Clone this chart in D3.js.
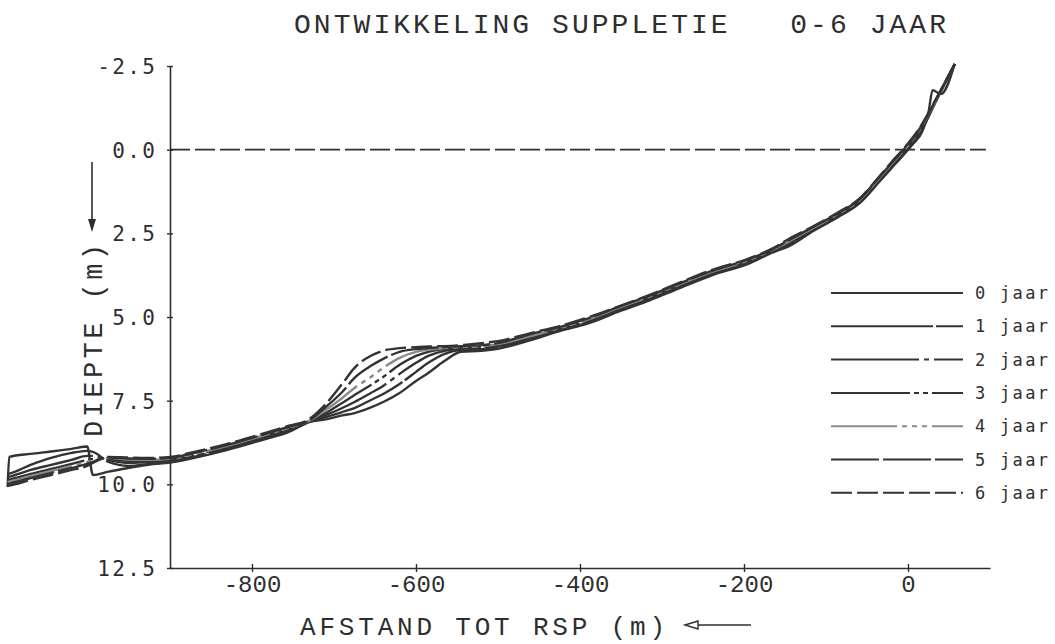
<!DOCTYPE html>
<html>
<head>
<meta charset="utf-8">
<script src="https://cdn.jsdelivr.net/npm/d3@7"></script>
<style>
  html, body { margin: 0; padding: 0; background: #fff; }
  svg { display: block; }
</style>
</head>
<body>
<svg id="chart" width="1055" height="644"></svg>
<script>
// Afstand tot RSP (m) — gemeenschappelijk rekenrooster voor alle profielen
const distance = [-1098, -1096, -1070, -1045, -1020, -1001, -994, -975, -950, -925,
  -900, -865, -830, -790, -755, -730, -710, -690, -675, -655,
  -640, -620, -600, -585, -565, -545, -520, -500, -460, -425,
  -390, -350, -315, -280, -240, -195, -165, -145, -115, -85,
  -60, -35, -20, -5, 5, 18, 25, 30, 40, 57];

// Diepte (m) per profiel, 0 t/m 6 jaar na aanleg
const jaar0 = [10.08, 9.18, 9.09, 9.02, 8.94, 8.87, 9.72, 9.62, 9.51, 9.41,
  9.35, 9.18, 8.97, 8.69, 8.43, 8.14, 8.06, 7.94, 7.87, 7.70,
  7.54, 7.27, 6.91, 6.67, 6.31, 6.04, 6.01, 5.95, 5.69, 5.42,
  5.19, 4.81, 4.50, 4.15, 3.76, 3.41, 3.07, 2.88, 2.42, 2.01,
  1.62, 0.96, 0.55, 0.14, -0.14, -0.58, -1.12, -1.78, -1.66, -2.56];
const jaar1 = [9.69, 9.68, 9.42, 9.21, 9.06, 9.00, 9.03, 9.33, 9.45, 9.39,
  9.33, 9.15, 8.94, 8.66, 8.40, 8.13, 7.99, 7.84, 7.72, 7.48,
  7.30, 7.00, 6.64, 6.37, 6.10, 5.98, 5.96, 5.90, 5.66, 5.40,
  5.16, 4.78, 4.47, 4.12, 3.73, 3.39, 3.05, 2.85, 2.40, 1.99,
  1.60, 0.93, 0.52, 0.11, -0.18, -0.63, -0.98, -1.24, -1.73, -2.56];
const jaar2 = [9.78, 9.77, 9.57, 9.42, 9.27, 9.15, 9.15, 9.27, 9.36, 9.33,
  9.30, 9.12, 8.91, 8.63, 8.37, 8.12, 7.93, 7.72, 7.54, 7.27,
  7.06, 6.70, 6.37, 6.16, 6.01, 5.96, 5.93, 5.87, 5.63, 5.39,
  5.13, 4.76, 4.44, 4.09, 3.71, 3.36, 3.03, 2.80, 2.37, 1.96,
  1.57, 0.90, 0.49, 0.08, -0.22, -0.67, -1.00, -1.26, -1.74, -2.56];
const jaar3 = [9.87, 9.86, 9.69, 9.54, 9.39, 9.27, 9.24, 9.24, 9.30, 9.30,
  9.27, 9.09, 8.88, 8.60, 8.34, 8.11, 7.87, 7.57, 7.33, 7.03,
  6.79, 6.43, 6.16, 6.04, 5.96, 5.93, 5.90, 5.84, 5.60, 5.36,
  5.10, 4.73, 4.42, 4.07, 3.68, 3.34, 3.01, 2.77, 2.35, 1.94,
  1.55, 0.88, 0.46, 0.05, -0.25, -0.71, -1.04, -1.28, -1.75, -2.56];
const jaar4 = [9.93, 9.92, 9.75, 9.60, 9.45, 9.33, 9.30, 9.21, 9.26, 9.27,
  9.24, 9.06, 8.85, 8.57, 8.31, 8.10, 7.78, 7.42, 7.12, 6.79,
  6.52, 6.22, 6.04, 5.98, 5.93, 5.90, 5.87, 5.81, 5.57, 5.33,
  5.07, 4.70, 4.39, 4.04, 3.66, 3.31, 2.99, 2.74, 2.33, 1.92,
  1.53, 0.85, 0.43, 0.02, -0.28, -0.74, -1.06, -1.29, -1.76, -2.56];
const jaar5 = [9.99, 9.98, 9.81, 9.66, 9.51, 9.39, 9.33, 9.20, 9.23, 9.24,
  9.21, 9.03, 8.82, 8.54, 8.28, 8.09, 7.69, 7.24, 6.82, 6.46,
  6.25, 6.04, 5.96, 5.93, 5.90, 5.87, 5.84, 5.78, 5.51, 5.30,
  5.04, 4.67, 4.36, 4.01, 3.63, 3.28, 2.97, 2.70, 2.30, 1.89,
  1.50, 0.82, 0.40, -0.01, -0.31, -0.77, -1.08, -1.31, -1.77, -2.56];
const jaar6 = [10.05, 10.04, 9.87, 9.72, 9.57, 9.45, 9.36, 9.18, 9.20, 9.21,
  9.18, 9.00, 8.79, 8.51, 8.25, 8.05, 7.60, 7.00, 6.52, 6.16,
  6.01, 5.93, 5.90, 5.88, 5.87, 5.84, 5.78, 5.72, 5.48, 5.27,
  5.01, 4.66, 4.34, 3.99, 3.60, 3.26, 2.95, 2.66, 2.28, 1.87,
  1.48, 0.80, 0.37, -0.04, -0.34, -0.80, -1.10, -1.33, -1.78, -2.56];

const profiles = [jaar0, jaar1, jaar2, jaar3, jaar4, jaar5, jaar6];
const legendLabels = ["0 jaar", "1 jaar", "2 jaar", "3 jaar", "4 jaar", "5 jaar", "6 jaar"];
const dashPatterns = [null, "102,3", "88,5,5,5", "79,4,5,4,5,4", "66,5,5,5,5,5,5,5", "48,4", "21,5"];
const lineColors = ["#333", "#333", "#333", "#333", "#8a8a8a", "#333", "#333"];

const depthTicks = [-2.5, 0, 2.5, 5, 7.5, 10, 12.5];
const distanceTicks = [-800, -600, -400, -200, 0];

const svg = d3.select("#chart");
svg.append("rect").attr("width", 1055).attr("height", 644).attr("fill", "#fff");

const x = d3.scaleLinear().domain([-900, 100]).range([170, 990]);
const y = d3.scaleLinear().domain([-2.5, 12.5]).range([66, 568]);

const plotterFont = "'Liberation Mono', 'DejaVu Sans Mono', monospace";
const roundFont = "'DejaVu Sans Mono', monospace";
const ink = "#2e2e2e";

// Titel
svg.append("text")
  .attr("x", 294).attr("y", 33)
  .attr("textLength", 652).attr("lengthAdjust", "spacing")
  .style("white-space", "pre")
  .style("font-family", plotterFont).style("font-size", "28px")
  .attr("fill", ink)
  .text("ONTWIKKELING SUPPLETIE   0-6 JAAR");

// Waterlijn (0.0 m)
svg.append("line")
  .attr("x1", x(-900)).attr("x2", x(95))
  .attr("y1", y(0)).attr("y2", y(0))
  .attr("stroke", ink).attr("stroke-width", 1.6)
  .attr("stroke-dasharray", "20,5");

// Profielen
const line = d3.line()
  .x((d, i) => x(distance[i]))
  .y(d => y(d))
  .curve(d3.curveMonotoneX);

svg.append("g").selectAll("path")
  .data(profiles)
  .join("path")
  .attr("d", d => line(d))
  .attr("fill", "none")
  .attr("stroke", (d, i) => lineColors[i])
  .attr("stroke-width", 2.4)
  .attr("stroke-linejoin", "round")
  .attr("stroke-dasharray", (d, i) => dashPatterns[i]);

// Assen
const yAxis = d3.axisLeft(y).tickValues(depthTicks).tickSize(3).tickSizeOuter(0)
  .tickFormat(d => d.toFixed(1));
const gy = svg.append("g").attr("transform", "translate(170,0)").call(yAxis);
gy.select(".domain").attr("stroke", ink).attr("stroke-width", 1.6);
gy.selectAll(".tick line").attr("x1", -3).attr("x2", 3).attr("stroke", ink).attr("stroke-width", 1.4);
gy.selectAll(".tick text")
  .attr("x", -12.6).attr("dy", "0.36em")
  .attr("letter-spacing", 2.4)
  .style("font-family", roundFont).style("font-size", "21px")
  .attr("fill", ink);

const xAxis = d3.axisBottom(x).tickValues(distanceTicks).tickSize(4).tickSizeOuter(0)
  .tickFormat(d => String(d));
const gx = svg.append("g").attr("transform", "translate(0,568)").call(xAxis);
gx.select(".domain").attr("stroke", ink).attr("stroke-width", 1.6);
gx.selectAll(".tick line").attr("y1", -4).attr("y2", 4).attr("stroke", ink).attr("stroke-width", 1.4);
gx.selectAll(".tick text")
  .attr("y", 7).attr("dy", "0.71em")
  .style("font-family", plotterFont).style("font-size", "24px")
  .attr("fill", ink);

// Aslabels
svg.append("text")
  .attr("transform", "translate(102,437) rotate(-90)")
  .attr("textLength", 193).attr("lengthAdjust", "spacing")
  .style("font-family", plotterFont).style("font-size", "27px")
  .attr("fill", ink)
  .text("DIEPTE (m)");

svg.append("line")
  .attr("x1", 92).attr("x2", 92).attr("y1", 162).attr("y2", 222)
  .attr("stroke", ink).attr("stroke-width", 1.6);
svg.append("path")
  .attr("d", "M88,219L96,219L92,232Z")
  .attr("fill", ink);

svg.append("text")
  .attr("x", 300).attr("y", 635)
  .attr("textLength", 365).attr("lengthAdjust", "spacing")
  .style("font-family", plotterFont).style("font-size", "26px")
  .attr("fill", ink)
  .text("AFSTAND TOT RSP (m)");

svg.append("line")
  .attr("x1", 697).attr("x2", 751).attr("y1", 625).attr("y2", 625)
  .attr("stroke", ink).attr("stroke-width", 1.6);
svg.append("path")
  .attr("d", "M685,625L698,621L698,629Z")
  .attr("fill", "#fff").attr("stroke", ink).attr("stroke-width", 1.4);

// Legenda
const legend = svg.append("g");
const rowY = i => 293 + i * 33.3;
legend.selectAll("line")
  .data(legendLabels)
  .join("line")
  .attr("x1", 831).attr("x2", 963)
  .attr("y1", (d, i) => rowY(i)).attr("y2", (d, i) => rowY(i))
  .attr("stroke", (d, i) => lineColors[i])
  .attr("stroke-width", 2)
  .attr("stroke-dasharray", (d, i) => dashPatterns[i]);
legend.selectAll("text")
  .data(legendLabels)
  .join("text")
  .attr("x", 975)
  .attr("y", (d, i) => rowY(i) + 6)
  .attr("letter-spacing", 2.3)
  .style("font-family", roundFont).style("font-size", "17px")
  .attr("fill", ink)
  .text(d => d);
</script>
</body>
</html>
